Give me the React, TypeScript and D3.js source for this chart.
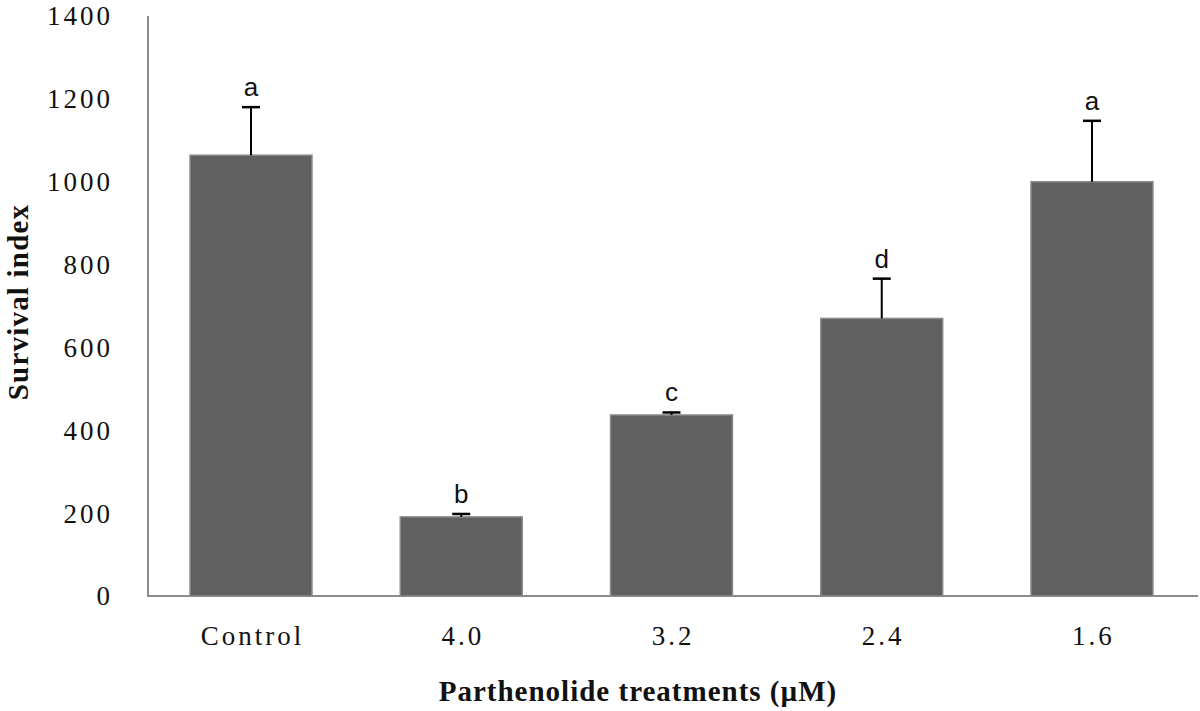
import React, { useEffect, useRef } from "react"
import * as d3 from "d3"

const treatments = ["Control", "4.0", "3.2", "2.4", "1.6"]
const survival = [1064, 191, 437, 670, 1000]
const errors = [116, 7, 6, 96, 147]
const letters = ["a", "b", "c", "d", "a"]
const yTicks = [0, 200, 400, 600, 800, 1000, 1200, 1400]

export default function App() {
  const ref = useRef<SVGSVGElement>(null)

  useEffect(() => {
    document.body.style.margin = "0"
    const svg = d3.select(ref.current)
    svg.selectAll("*").remove()

    const x = d3.scaleBand().domain(treatments).range([148, 1195])
      .paddingInner(0.42).paddingOuter(0.2)
    const y = d3.scaleLinear().domain([0, 1400]).range([596, 16])

    const serif = "'Liberation Serif', 'Times New Roman', serif"
    const sans = "'Liberation Sans', Arial, sans-serif"

    // axes
    svg.append("line")
      .attr("x1", 148).attr("x2", 148).attr("y1", y(1400)).attr("y2", y(0))
      .attr("stroke", "#8c8c8c").attr("stroke-width", 2)
    svg.append("line")
      .attr("x1", 147).attr("x2", 1198).attr("y1", y(0)).attr("y2", y(0))
      .attr("stroke", "#8c8c8c").attr("stroke-width", 2)

    svg.selectAll(".ytick").data(yTicks).join("text")
      .attr("class", "ytick")
      .attr("x", 113).attr("y", d => y(d))
      .attr("dy", "0.35em")
      .attr("text-anchor", "end")
      .style("font-family", serif).style("font-size", "27px")
      .style("letter-spacing", "3px")
      .attr("fill", "#111")
      .text(d => d)

    svg.selectAll(".xtick").data(treatments).join("text")
      .attr("class", "xtick")
      .attr("x", d => x(d)! + x.bandwidth() / 2 + 1.5).attr("y", 645)
      .attr("text-anchor", "middle")
      .style("font-family", serif).style("font-size", "27px")
      .style("letter-spacing", "3px")
      .attr("fill", "#111")
      .text(d => d)

    // bars
    svg.selectAll(".bar").data(treatments).join("rect")
      .attr("class", "bar")
      .attr("x", d => x(d)!)
      .attr("width", x.bandwidth())
      .attr("y", (d, i) => y(survival[i]))
      .attr("height", (d, i) => y(0) - y(survival[i]))
      .attr("fill", "#606060")
      .attr("stroke", "#8a8a8a").attr("stroke-width", 1.5)

    // error bars
    const eb = svg.selectAll(".err").data(treatments).join("g").attr("class", "err")
    eb.append("line")
      .attr("x1", d => x(d)! + x.bandwidth() / 2)
      .attr("x2", d => x(d)! + x.bandwidth() / 2)
      .attr("y1", (d, i) => y(survival[i]))
      .attr("y2", (d, i) => y(survival[i] + errors[i]))
      .attr("stroke", "#000").attr("stroke-width", 2)
    eb.append("line")
      .attr("x1", d => x(d)! + x.bandwidth() / 2 - 9)
      .attr("x2", d => x(d)! + x.bandwidth() / 2 + 9)
      .attr("y1", (d, i) => y(survival[i] + errors[i]))
      .attr("y2", (d, i) => y(survival[i] + errors[i]))
      .attr("stroke", "#000").attr("stroke-width", 2.5)

    svg.selectAll(".letter").data(treatments).join("text")
      .attr("class", "letter")
      .attr("x", d => x(d)! + x.bandwidth() / 2)
      .attr("y", (d, i) => y(survival[i] + errors[i]) - 11)
      .attr("text-anchor", "middle")
      .style("font-family", sans).style("font-size", "26px")
      .attr("fill", "#111")
      .text((d, i) => letters[i])

    // titles
    svg.append("text")
      .attr("x", 638).attr("y", 701)
      .attr("text-anchor", "middle")
      .style("font-family", serif).style("font-size", "29px").style("font-weight", "bold")
      .style("letter-spacing", "1px")
      .attr("fill", "#111")
      .text("Parthenolide treatments (µM)")

    svg.append("text")
      .attr("transform", "translate(28,302) rotate(-90)")
      .attr("text-anchor", "middle")
      .style("font-family", serif).style("font-size", "29px").style("font-weight", "bold")
      .style("letter-spacing", "1.2px")
      .attr("fill", "#111")
      .text("Survival index")
  }, [])

  return (
    <div>
      <svg ref={ref} width={1200} height={711} style={{ display: "block", background: "#fff" }}></svg>
    </div>
  )
}
